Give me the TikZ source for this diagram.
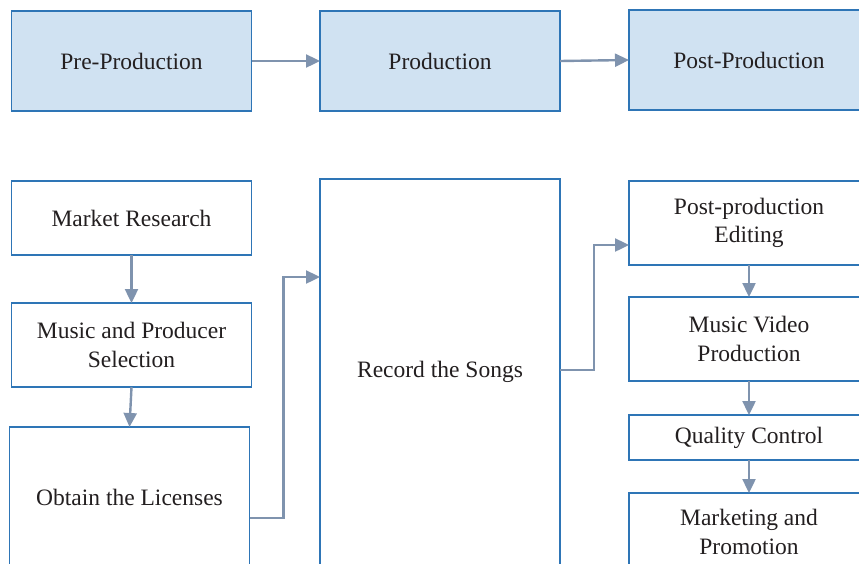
\documentclass[tikz,border=0pt]{standalone}
\usepackage{fontspec}
\setmainfont{Liberation Serif}
\usetikzlibrary{arrows.meta}
\definecolor{boxline}{HTML}{2E75B6}
\definecolor{boxfill}{HTML}{D0E2F2}
\definecolor{flow}{HTML}{7F93AE}
\definecolor{ink}{HTML}{231F20}
\tikzset{
  stage/.style={draw=boxline, line width=1.8pt, fill=boxfill, text=ink,
    minimum width=240pt, minimum height=100pt, inner sep=2pt, outer sep=0pt,
    align=center, font=\fontsize{23.5}{28.5}\selectfont},
  task/.style={draw=boxline, line width=1.8pt, fill=white, text=ink,
    minimum width=240pt, inner sep=2pt, outer sep=0pt,
    align=center, font=\fontsize{23.5}{28.5}\selectfont},
  flowarrow/.style={draw=flow, line width=2.4pt,
    -{Triangle[length=14pt,width=13pt]}},
}
\begin{document}
\begin{tikzpicture}[x=1pt,y=-1pt]
  \useasboundingbox (0,0) rectangle (859,563);
  \clip (0,0) rectangle (859,563);

  % phase row
  \node[stage] (pre)  at (131.5,61) {Pre-Production};
  \node[stage] (prod) at (440,61)   {Production};
  \node[stage] (post) at (749,60)   {Post-Production};

  % pre-production tasks
  \node[task, minimum height=74pt]  (mr)  at (131.5,218) {Market Research};
  \node[task, minimum height=84pt]  (mps) at (131.5,345) {Music and Producer\\Selection};
  \node[task, minimum height=140pt] (ol)  at (129.5,497) {Obtain the Licenses};

  % production
  \node[task, minimum height=386pt] (rec) at (440,372) {Record the Songs};

  % post-production tasks
  \node[task, minimum height=84pt] (ppe) at (749,223)   {Post-production\\Editing};
  \node[task, minimum height=84pt] (mvp) at (749,339)   {Music Video\\Production};
  \node[task, minimum height=45pt] (qc)  at (749,437.5) {Quality Control};
  \node[task, minimum height=78pt] (mp)  at (749,532)   {Marketing and\\Promotion};

  % connectors
  \draw[flowarrow] (pre.east) -- (prod.west);
  \draw[flowarrow] (prod.east) -- (post.west);

  \draw[flowarrow] (mr.south) -- (mps.north);
  \draw[flowarrow] (mps.south) -- (ol.north);
  \draw[flowarrow] ([yshift=-21pt]ol.east) -- ++(34,0) |- ([yshift=95pt]rec.west);

  \draw[flowarrow] ([yshift=2pt]rec.east) -- ++(34,0) |- ([yshift=-22pt]ppe.west);
  \draw[flowarrow] (ppe.south) -- (mvp.north);
  \draw[flowarrow] (mvp.south) -- (qc.north);
  \draw[flowarrow] (qc.south) -- (mp.north);
\end{tikzpicture}
\end{document}
